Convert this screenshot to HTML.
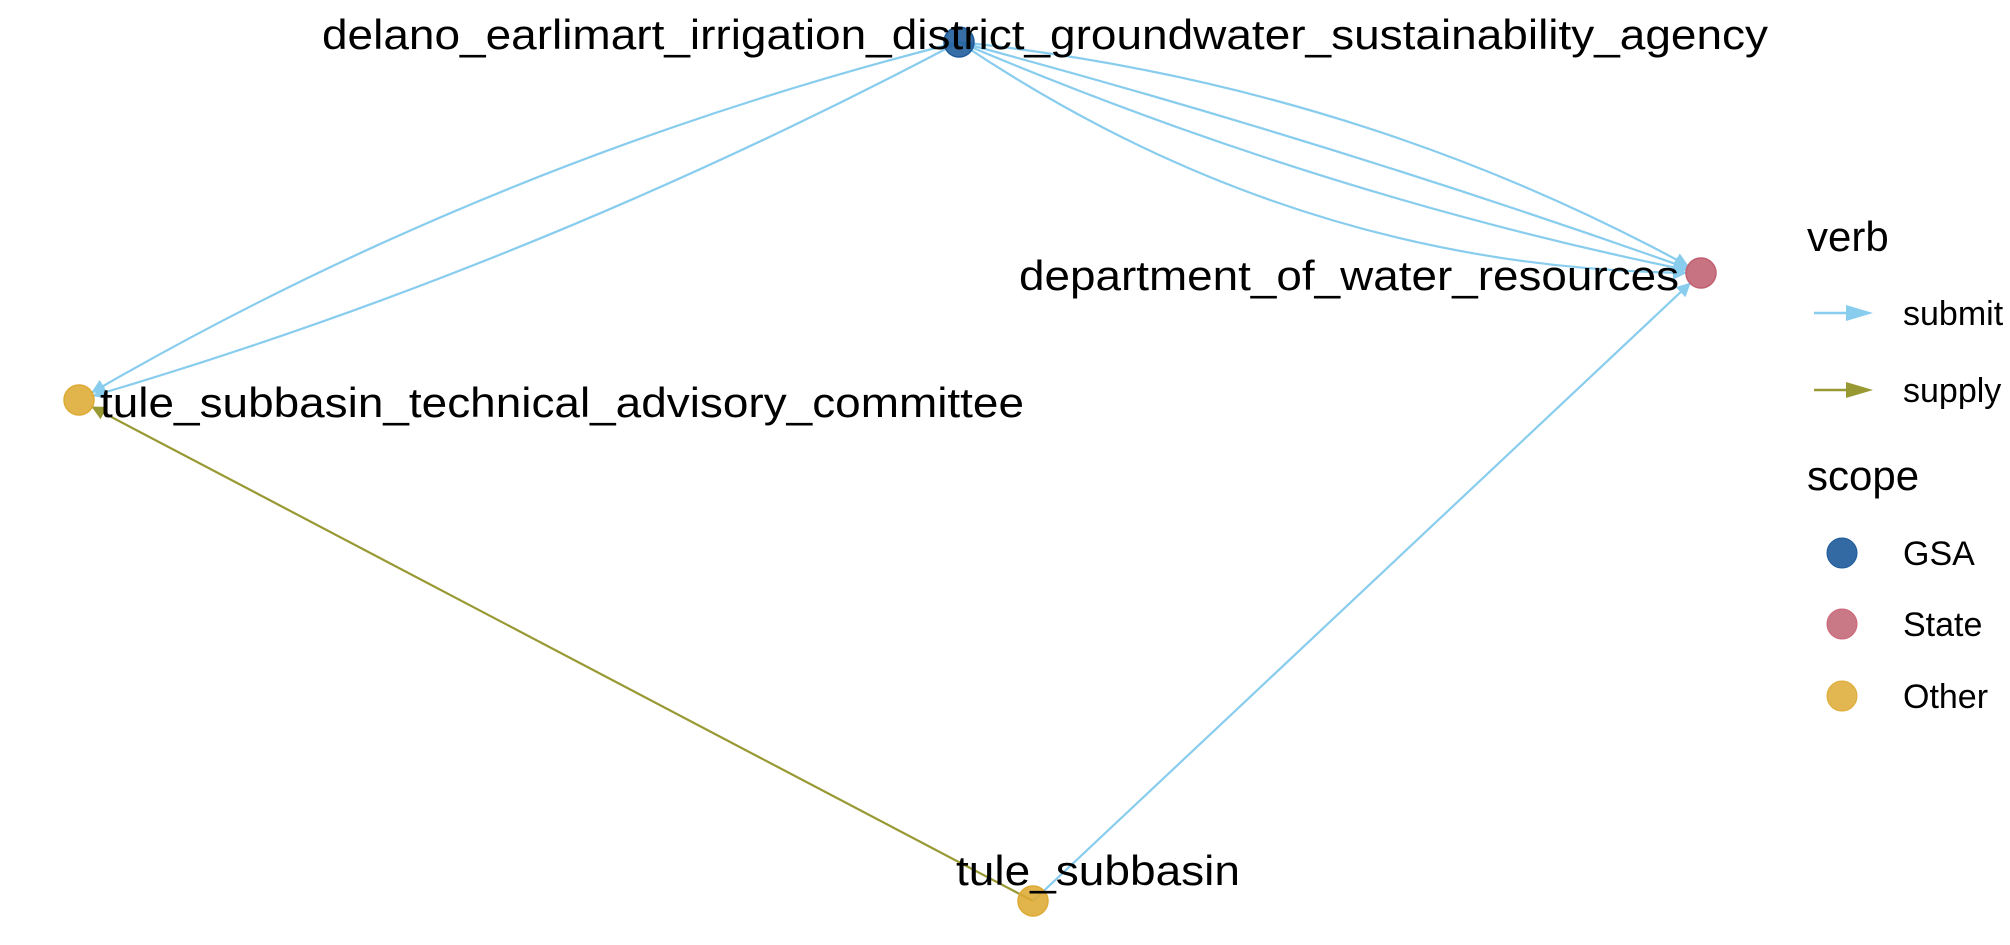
<!DOCTYPE html>
<html><head><meta charset="utf-8"><style>
html,body{margin:0;padding:0;background:#fff;}
svg{display:block;font-family:"Liberation Sans",Arial,sans-serif;}
</style></head><body>
<svg id="chart" width="2010" height="945" viewBox="0 0 2010 945">
<defs>
<marker id="arrSubmit" viewBox="0 0 10 10" refX="10" refY="5" markerWidth="18" markerHeight="14" markerUnits="userSpaceOnUse" orient="auto"><path d="M0,0 L10,5 L0,10 z" fill="#88CCEE"/></marker>
<marker id="arrSupply" viewBox="0 0 10 10" refX="10" refY="5" markerWidth="18" markerHeight="14" markerUnits="userSpaceOnUse" orient="auto"><path d="M0,0 L10,5 L0,10 z" fill="#999933"/></marker>
</defs>
<g id="edges"></g>
<g id="nodes"></g>
<g id="labels"></g>
<g id="legend">
  <text x="1807" y="251" font-size="42" fill="#000">verb</text>
  <g>
    <line x1="1814" y1="313" x2="1862" y2="313" stroke="#88CCEE" stroke-width="2.5"/>
    <path d="M1846,305 L1873,313 L1846,321 z" fill="#88CCEE"/>
    <text x="1903" y="325" font-size="34" fill="#000">submit</text>
  </g>
  <g>
    <line x1="1814" y1="390" x2="1862" y2="390" stroke="#999933" stroke-width="2.5"/>
    <path d="M1846,382 L1873,390 L1846,398 z" fill="#999933"/>
    <text x="1903" y="402" font-size="34" fill="#000">supply</text>
  </g>
  <text x="1807" y="490" font-size="42" fill="#000">scope</text>
  <g>
    <circle cx="1842" cy="553" r="15" fill="#1D5A9A" fill-opacity="0.9" stroke="#1D5A9A"/>
    <text x="1903" y="565" font-size="34" fill="#000">GSA</text>
  </g>
  <g>
    <circle cx="1842" cy="624" r="15" fill="#C06070" fill-opacity="0.85" stroke="#CC6677"/>
    <text x="1903" y="636" font-size="34" fill="#000">State</text>
  </g>
  <g>
    <circle cx="1842" cy="696" r="15" fill="#DDAA33" fill-opacity="0.85" stroke="#DDAA33"/>
    <text x="1903" y="708" font-size="34" fill="#000">Other</text>
  </g>
</g>
</svg>
<script>
const nodeNames = ["delano_earlimart_irrigation_district_groundwater_sustainability_agency","department_of_water_resources","tule_subbasin_technical_advisory_committee","tule_subbasin"];
const nodeScope = ["GSA","State","Other","Other"];
const nodeX = [959,1701,79,1033];
const nodeY = [42,273,400,901];
const labelX = [1045,1349,562,1098];
const labelY = [49,290,417,885];
const labelW = [1446,660,924,284];
const edgeFrom = [0,0,0,0,0,0,3,3];
const edgeTo = [1,1,1,1,2,2,2,1];
const edgeVerb = ["submit","submit","submit","submit","submit","submit","supply","submit"];
const edgeCurve = [0.15,0.05,-0.02,-0.1,0.07,-0.05,0,0];

const NS="http://www.w3.org/2000/svg";
const scopeFill={GSA:"#1D5A9A",State:"#C06070",Other:"#DDAA33"};
const verbColor={submit:"#88CCEE",supply:"#999933"};
const gE=document.getElementById("edges"),gN=document.getElementById("nodes"),gL=document.getElementById("labels");
for(let i=0;i<edgeFrom.length;i++){
  const x1=nodeX[edgeFrom[i]],y1=nodeY[edgeFrom[i]],x2=nodeX[edgeTo[i]],y2=nodeY[edgeTo[i]];
  const dx=x2-x1,dy=y2-y1,L=Math.hypot(dx,dy);
  const c=edgeCurve[i];
  const cx=(x1+x2)/2 + (dy/L)*(-c*L), cy=(y1+y2)/2 + (-dx/L)*(-c*L);
  const ex=x2-cx,ey=y2-cy,el=Math.hypot(ex,ey);
  const tx=x2-ex/el*14,ty=y2-ey/el*14;
  const p=document.createElementNS(NS,"path");
  p.setAttribute("d",`M${x1},${y1} Q${cx},${cy} ${tx},${ty}`);
  p.setAttribute("fill","none");
  p.setAttribute("stroke",verbColor[edgeVerb[i]]);
  p.setAttribute("stroke-width","2.2");
  p.setAttribute("marker-end",edgeVerb[i]==="submit"?"url(#arrSubmit)":"url(#arrSupply)");
  
  
  gE.appendChild(p);
}
for(let i=0;i<nodeNames.length;i++){
  const c=document.createElementNS(NS,"circle");
  c.setAttribute("cx",nodeX[i]);c.setAttribute("cy",nodeY[i]);c.setAttribute("r",15);
  c.setAttribute("fill",scopeFill[nodeScope[i]]);c.setAttribute("fill-opacity","0.88");
  c.setAttribute("stroke",scopeFill[nodeScope[i]]);c.setAttribute("stroke-width","1.5");
  
  
  gN.appendChild(c);
  const t=document.createElementNS(NS,"text");
  t.setAttribute("x",labelX[i]);t.setAttribute("y",labelY[i]);
  t.setAttribute("text-anchor","middle");t.setAttribute("font-size","42");
  t.setAttribute("textLength",labelW[i]);t.setAttribute("lengthAdjust","spacingAndGlyphs");
  t.textContent=nodeNames[i];
  
  
  gL.appendChild(t);
}
</script>
</body></html>
